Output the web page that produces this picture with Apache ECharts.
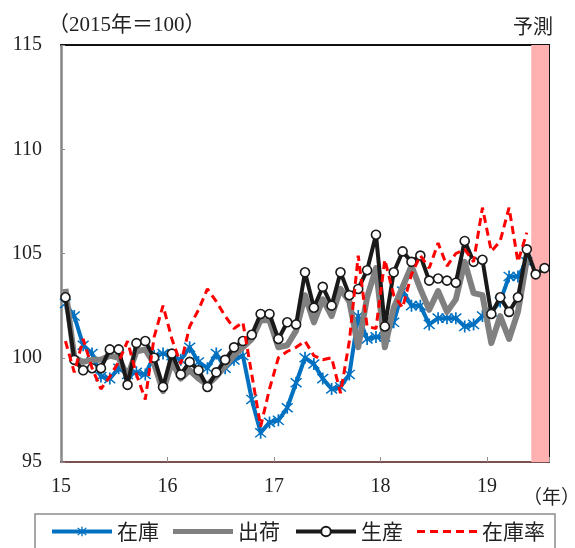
<!DOCTYPE html>
<html>
<head>
<meta charset="utf-8">
<script src="https://cdn.jsdelivr.net/npm/echarts@6/dist/echarts.min.js"></script>
<style>
  html, body { margin: 0; padding: 0; background: #fff; }
  #chart { width: 575px; height: 548px; }
</style>
</head>
<body>
<div id="chart"></div>
<script>
// Monthly indices, Jan 2015 – Jul 2019 (2015 = 100). Jun–Jul 2019 are forecasts.
const yearLabels = ['15', '16', '17', '18', '19'];
const seriesNames = ['在庫', '出荷', '生産', '在庫率'];

// 生産 (production) – includes the two forecast months
const production = [
  102.9, 99.9, 99.4, 99.5, 99.5, 100.4, 100.4, 98.7, 100.7, 100.8, 100.0, 98.6,
  100.2, 99.2, 99.8, 99.4, 98.6, 99.3, 99.9, 100.5, 100.8, 101.1, 102.1, 102.1,
  100.9, 101.7, 101.6, 104.1, 102.4, 103.4, 102.5, 104.1, 103.0, 103.3, 104.2, 105.9,
  101.5, 104.1, 105.1, 104.6, 104.9, 103.7, 103.8, 103.7, 103.6, 105.6, 104.6, 104.7,
  102.1, 102.9, 102.2, 102.9, 105.2, 104.0, 104.3
];

// 出荷 (shipments)
const shipments = [
  103.3, 100.0, 99.8, 99.9, 99.9, 100.1, 100.0, 99.1, 100.3, 100.4, 99.7, 98.4,
  99.8, 99.0, 99.4, 99.0, 98.7, 99.1, 99.6, 100.1, 100.5, 100.9, 101.8, 101.8,
  100.5, 100.6, 101.3, 103.0, 101.7, 102.8, 102.0, 103.3, 102.7, 100.5, 102.9, 104.3,
  100.5, 102.4, 103.4, 104.4, 103.3, 102.3, 103.2, 102.2, 102.8, 104.6, 103.1, 103.0,
  100.7, 102.0, 100.9, 102.2, 104.7
];

// 在庫 (inventory)
const inventory = [
  102.6, 102.0, 100.6, 100.2, 99.1, 99.0, 99.5, 99.2, 99.3, 99.2, 100.1, 100.2,
  100.1, 99.9, 100.5, 99.8, 99.5, 100.2, 99.5, 99.9, 100.1, 98.0, 96.4, 96.9,
  97.0, 97.6, 98.8, 100.0, 99.7, 99.0, 98.5, 98.6, 99.2, 102.0, 100.9, 101.0,
  101.0, 101.7, 103.2, 102.5, 102.5, 101.6, 101.9, 101.9, 101.9, 101.5, 101.6, 102.0,
  102.2, 102.7, 103.9, 103.9, 104.6
];

// 在庫率 (inventory ratio)
const inventoryRatio = [
  100.8, 99.3, 100.9, 99.5, 98.5, 99.1, 99.8, 100.8, 99.2, 98.0, 101.0, 102.5,
  100.9, 99.7, 101.5, 102.3, 103.3, 102.7, 102.0, 101.4, 101.7, 99.2, 96.7, 98.5,
  100.0, 100.3, 100.5, 100.8, 100.1, 99.9, 100.0, 98.3, 100.8, 104.9, 101.5, 101.4,
  104.7, 103.0, 102.4, 104.0, 104.9, 104.3, 105.5, 104.4, 105.0, 105.2, 104.6, 107.2,
  105.1, 105.6, 107.2, 104.6, 106.0
];

const forecastStart = 53;          // first forecast month (Jun 2019)
const monthCount = production.length;

// each month occupies one unit on the x scale; points sit in the middle of it
const toPoints = arr => arr.map((v, i) => [i + 0.5, v]);

const asterisk = 'path://M4.4 0H5.6V10H4.4Z M0.8 1.6L1.6 0.8L9.2 8.4L8.4 9.2Z M8.4 0.8L9.2 1.6L1.6 9.2L0.8 8.4Z';
// legend keys for the marker-less series: a solid bar and a dashed bar
const solidKey = 'path://M0 0H60V5H0Z';
const dashedKey = 'path://M0 0H8V3H0Z M13 0H21V3H13Z M26 0H34V3H26Z M39 0H47V3H39Z M52 0H60V3H52Z';

const serifFont = "'Liberation Serif', 'Noto Sans CJK JP', serif";
const cjkFont = "'Noto Sans CJK JP', sans-serif";

const chart = echarts.init(document.getElementById('chart'), null, { renderer: 'canvas' });

chart.setOption({
  animation: false,
  backgroundColor: '#fff',
  grid: { left: 61, right: 26, top: 45, bottom: 86 },
  xAxis: [
    {
      type: 'value',
      min: 0,
      max: monthCount,
      interval: 12,
      axisLine: { show: true, lineStyle: { color: '#7a5050', width: 2 } },
      axisTick: { show: true, inside: true, length: 5, lineStyle: { color: '#909090', width: 1 } },
      splitLine: { show: false },
      axisLabel: {
        margin: 15,
        fontSize: 20,
        fontFamily: serifFont,
        color: '#222',
        formatter: v => (v % 12 === 0 ? yearLabels[v / 12] || '' : '')
      }
    },
    {
      type: 'value',
      position: 'top',
      min: 0,
      max: monthCount,
      axisLine: { show: true, onZero: false, lineStyle: { color: '#111', width: 2 } },
      axisTick: { show: false },
      axisLabel: { show: false },
      splitLine: { show: false }
    }
  ],
  yAxis: [
    {
      type: 'value',
      min: 95,
      max: 115,
      interval: 5,
      axisLine: { show: true, lineStyle: { color: '#858585', width: 2.5 } },
      axisTick: { show: true, inside: true, length: 4, lineStyle: { color: '#909090', width: 1 } },
      splitLine: { show: false },
      axisLabel: { margin: 19, fontSize: 20, fontFamily: serifFont, color: '#222' }
    },
    {
      type: 'value',
      position: 'right',
      min: 95,
      max: 115,
      axisLine: { show: true, onZero: false, lineStyle: { color: '#111', width: 2 } },
      axisTick: { show: false },
      axisLabel: { show: false },
      splitLine: { show: false }
    }
  ],
  legend: {
    data: [
      { name: seriesNames[0], lineStyle: { width: 4 } },
      { name: seriesNames[1], icon: solidKey },
      { name: seriesNames[2], lineStyle: { width: 4 } },
      { name: seriesNames[3], icon: dashedKey }
    ],
    left: 35,
    bottom: -14,
    itemWidth: 60,
    itemHeight: 12,
    itemGap: 14,
    padding: [7, 10, 20, 15],
    borderColor: '#8c8c8c',
    borderWidth: 1.5,
    textStyle: { fontSize: 21, fontFamily: cjkFont, color: '#222' }
  },
  graphic: [
    {
      type: 'text', left: 48, top: 15,
      style: { text: '（2015年＝100）', font: "21px " + serifFont, fill: '#222' }
    },
    {
      type: 'text', right: 22, top: 16,
      style: { text: '予測', font: "20px " + cjkFont, fill: '#222' }
    },
    {
      type: 'text', left: 523, top: 487,
      style: { text: '（年）', font: "19px " + cjkFont, fill: '#222' }
    }
  ],
  series: [
    {
      name: '在庫',
      type: 'line',
      data: toPoints(inventory),
      symbol: asterisk,
      symbolSize: 12,
      itemStyle: { color: '#0070C0' },
      lineStyle: { color: '#0070C0', width: 4, join: 'round' },
      markArea: {
        silent: true,
        itemStyle: { color: '#FFB0B0' },
        data: [[{ xAxis: forecastStart }, { xAxis: monthCount }]]
      },
      z: 2
    },
    {
      name: '出荷',
      type: 'line',
      data: toPoints(shipments),
      symbol: 'none',
      itemStyle: { color: '#808080' },
      lineStyle: { color: '#808080', width: 6, join: 'round' },
      z: 3
    },
    {
      name: '生産',
      type: 'line',
      data: toPoints(production),
      symbol: 'circle',
      symbolSize: 9,
      itemStyle: { color: '#ffffff', borderColor: '#1a1a1a', borderWidth: 1.6 },
      lineStyle: { color: '#1a1a1a', width: 4, join: 'round' },
      z: 4
    },
    {
      name: '在庫率',
      type: 'line',
      data: toPoints(inventoryRatio),
      symbol: 'none',
      itemStyle: { color: '#FF0000' },
      lineStyle: { color: '#FF0000', width: 3, type: [8, 5] },
      z: 5
    }
  ]
});
</script>
</body>
</html>
